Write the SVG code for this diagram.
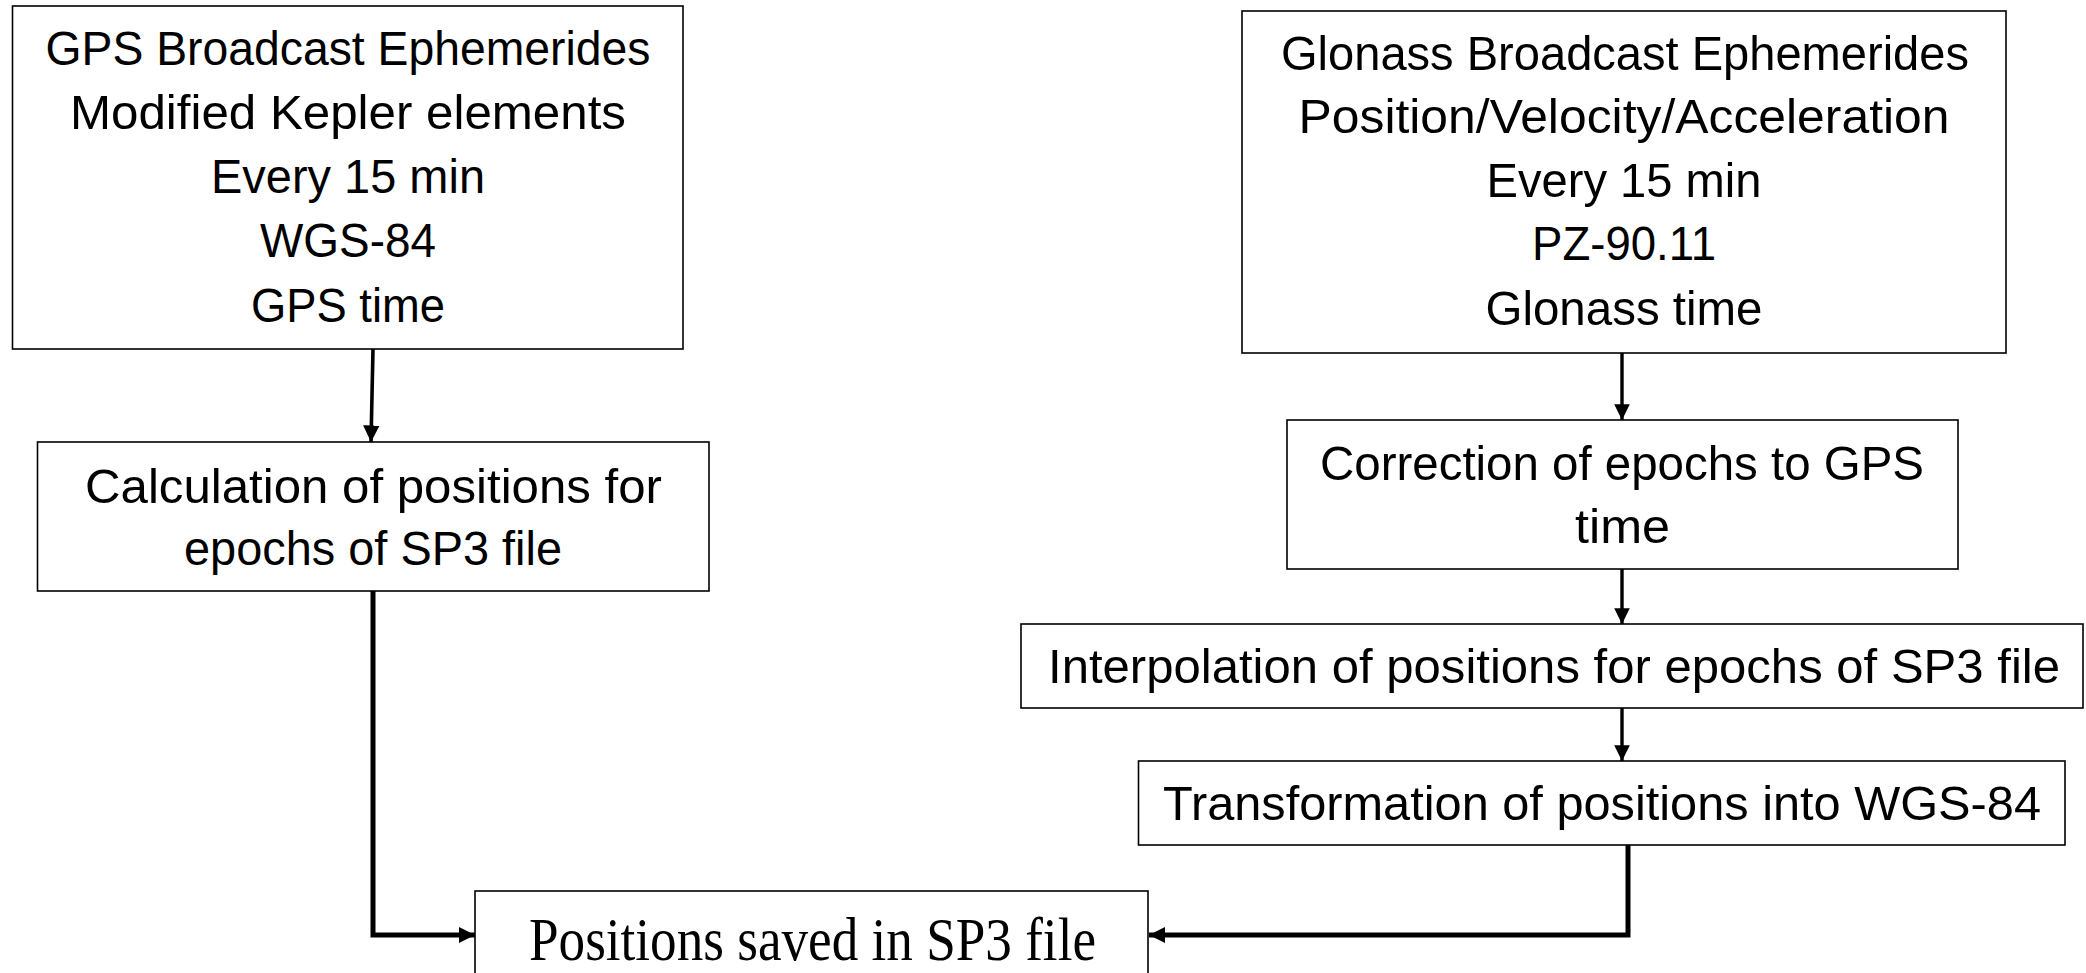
<svg xmlns="http://www.w3.org/2000/svg" width="2086" height="973" viewBox="0 0 2086 973">
<style>
.box{fill:#fff;stroke:#000;stroke-width:1.6}
.t{font-family:"Liberation Sans",Arial,sans-serif;font-size:49px;fill:#000;text-anchor:middle}
.ts{font-family:"Liberation Serif","Times New Roman",serif;font-size:61px;fill:#000;text-anchor:middle}
.c{fill:none;stroke:#000;stroke-linejoin:miter}
</style>
<defs>
<marker id="ah" viewBox="0 0 10 10" refX="10" refY="5" markerWidth="4.6" markerHeight="4.6" orient="auto" markerUnits="strokeWidth">
<path d="M0,0 L10,5 L0,10 z" fill="#000"/>
</marker>
<marker id="ahb" viewBox="0 0 10 10" refX="10" refY="5" markerWidth="3.2" markerHeight="3.4" orient="auto" markerUnits="strokeWidth">
<path d="M0,0 L10,5 L0,10 z" fill="#000"/>
</marker>
</defs>
<rect width="2086" height="973" fill="#fff"/>
<g id="connectors">
<path class="c" d="M373,349 L371,442" stroke-width="3.6" marker-end="url(#ah)"/>
<path class="c" d="M373,591 L373,935 L475,935" stroke-width="5" marker-end="url(#ahb)"/>
<path class="c" d="M1622,353 L1622,420" stroke-width="3.4" marker-end="url(#ah)"/>
<path class="c" d="M1622,569 L1622,624" stroke-width="3.4" marker-end="url(#ah)"/>
<path class="c" d="M1622,702 L1622,761" stroke-width="3.4" marker-end="url(#ah)"/>
<path class="c" d="M1628,841 L1628,935 L1149,935" stroke-width="5" marker-end="url(#ahb)"/>
</g>
<g id="gps">
<rect class="box" x="12.5" y="6" width="670.5" height="343"/>
<text class="t" x="348" y="65" textLength="605" lengthAdjust="spacingAndGlyphs">GPS Broadcast Ephemerides</text>
<text class="t" x="348" y="129" textLength="556" lengthAdjust="spacingAndGlyphs">Modified Kepler elements</text>
<text class="t" x="348" y="193" textLength="274" lengthAdjust="spacingAndGlyphs">Every 15 min</text>
<text class="t" x="348" y="257" textLength="176" lengthAdjust="spacingAndGlyphs">WGS-84</text>
<text class="t" x="348" y="322" textLength="194" lengthAdjust="spacingAndGlyphs">GPS time</text>
</g>
<g id="glonass">
<rect class="box" x="1242" y="11" width="764" height="342"/>
<text class="t" x="1625" y="70" textLength="688" lengthAdjust="spacingAndGlyphs">Glonass Broadcast Ephemerides</text>
<text class="t" x="1624" y="133" textLength="651" lengthAdjust="spacingAndGlyphs">Position/Velocity/Acceleration</text>
<text class="t" x="1624" y="197" textLength="275" lengthAdjust="spacingAndGlyphs">Every 15 min</text>
<text class="t" x="1624" y="260" textLength="184" lengthAdjust="spacingAndGlyphs">PZ-90.11</text>
<text class="t" x="1624" y="325" textLength="277" lengthAdjust="spacingAndGlyphs">Glonass time</text>
</g>
<g id="calc">
<rect class="box" x="37.5" y="442" width="671.5" height="149"/>
<text class="t" x="373.5" y="503" textLength="577" lengthAdjust="spacingAndGlyphs">Calculation of positions for</text>
<text class="t" x="373" y="565" textLength="378" lengthAdjust="spacingAndGlyphs">epochs of SP3 file</text>
</g>
<g id="correction">
<rect class="box" x="1287" y="420" width="671" height="149"/>
<text class="t" x="1622" y="480" textLength="604" lengthAdjust="spacingAndGlyphs">Correction of epochs to GPS</text>
<text class="t" x="1622.5" y="543" textLength="95" lengthAdjust="spacingAndGlyphs">time</text>
</g>
<g id="interpolation">
<rect class="box" x="1021" y="624" width="1062" height="84"/>
<text class="t" x="1554" y="683" textLength="1012" lengthAdjust="spacingAndGlyphs">Interpolation of positions for epochs of SP3 file</text>
</g>
<g id="transformation">
<rect class="box" x="1138.5" y="761" width="926.5" height="84"/>
<text class="t" x="1602" y="820" textLength="878" lengthAdjust="spacingAndGlyphs">Transformation of positions into WGS-84</text>
</g>
<g id="positions">
<rect class="box" x="475" y="891" width="673" height="100"/>
<text class="ts" x="812.5" y="960" textLength="567" lengthAdjust="spacingAndGlyphs">Positions saved in SP3 file</text>
</g>
</svg>
